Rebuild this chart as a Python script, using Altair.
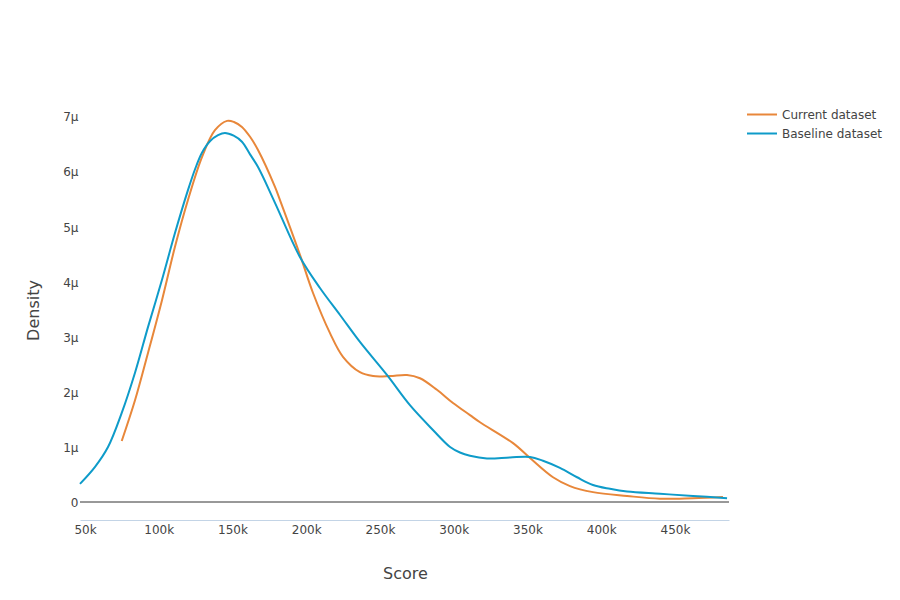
import altair as alt
import pandas as pd

# Baseline dataset density curve (score, density)
base_score = [46.6e3, 56.8e3, 65.6e3, 74.9e3, 83.9e3, 92.7e3, 102.2e3, 111.0e3, 119.8e3, 124.6e3,
              129.3e3, 134.7e3, 140.2e3, 144.9e3, 150.8e3, 156.4e3, 161.9e3, 167.3e3, 178.8e3,
              195.8e3, 209.3e3, 222.9e3, 236.4e3, 254.7e3, 270.3e3, 285.9e3, 297.5e3, 304.2e3,
              311.0e3, 322.5e3, 338.1e3, 351.7e3, 360.5e3, 372.0e3, 383.6e3, 394.4e3, 405.9e3,
              417.5e3, 439.8e3, 462.2e3, 485.3e3]
base_dens = [0.33, 0.64, 1.00, 1.62, 2.35, 3.18, 4.04, 4.89, 5.67, 6.05,
             6.35, 6.56, 6.67, 6.71, 6.66, 6.55, 6.32, 6.09, 5.44,
             4.45, 3.89, 3.40, 2.91, 2.31, 1.76, 1.31, 1.00, 0.90,
             0.84, 0.79, 0.81, 0.82, 0.75, 0.62, 0.45, 0.31, 0.24,
             0.19, 0.15, 0.11, 0.07]

# Current dataset density curve
cur_score = [74.9e3, 83.9e3, 92.7e3, 102.2e3, 111.0e3, 119.8e3, 129.3e3, 138.1e3, 146.3e3,
             151.0e3, 156.4e3, 161.9e3, 167.3e3, 178.8e3, 182.2e3, 195.8e3, 204.6e3, 216.1e3,
             224.9e3, 236.4e3, 245.3e3, 256.8e3, 268.3e3, 277.1e3, 288.6e3, 299.5e3, 311.0e3,
             317.8e3, 340.2e3, 351.7e3, 367.3e3, 378.8e3, 394.4e3, 417.5e3, 439.8e3, 462.2e3,
             482.5e3]
cur_dens = [1.11, 1.85, 2.71, 3.67, 4.64, 5.49, 6.27, 6.76, 6.93,
            6.91, 6.82, 6.64, 6.40, 5.73, 5.49, 4.49, 3.80, 3.07,
            2.64, 2.36, 2.29, 2.29, 2.31, 2.25, 2.04, 1.80, 1.58,
            1.45, 1.07, 0.80, 0.45, 0.29, 0.18, 0.11, 0.06, 0.07,
            0.09]

series_names = ["Current dataset", "Baseline dataset"]
series_colors = ["#E8873A", "#0E9BC9"]
x_ticks = [50e3, 100e3, 150e3, 200e3, 250e3, 300e3, 350e3, 400e3, 450e3]
y_ticks = [0, 1e-6, 2e-6, 3e-6, 4e-6, 5e-6, 6e-6, 7e-6]

rows = []
for s, d in zip(cur_score, cur_dens):
    rows.append({"Score": s, "Density": d * 1e-6, "Series": series_names[0], "order": 0})
for s, d in zip(base_score, base_dens):
    rows.append({"Score": s, "Density": d * 1e-6, "Series": series_names[1], "order": 1})
df = pd.DataFrame(rows)

xscale = alt.Scale(domain=[46610, 486610], nice=False, zero=False)
yscale = alt.Scale(domain=[-0.327e-6, 7.309e-6], nice=False, zero=False)

lines = alt.Chart(df).mark_line(strokeWidth=2, interpolate="catmull-rom").encode(
    x=alt.X("Score:Q", scale=xscale,
            axis=alt.Axis(values=x_ticks, format="~s", ticks=False, grid=False,
                          domainColor="#c3d4e6", domainWidth=1, labelPadding=4,
                          labelFontSize=12, labelColor="#444", labelFont="DejaVu Sans",
                          title="Score", titleFontSize=16, titleFont="DejaVu Sans",
                          titleFontWeight="normal", titleColor="#444",
                          titleX=325, titleY=58, titleBaseline="alphabetic", titleAlign="center")),
    y=alt.Y("Density:Q", scale=yscale,
            axis=alt.Axis(values=y_ticks, format="~s", ticks=False, grid=False, domain=False,
                          labelExpr="datum.value == 0 ? '0' : datum.label",
                          labelPadding=2, labelFontSize=12, labelColor="#444",
                          labelFont="DejaVu Sans",
                          title="Density", titleFontSize=16, titleFont="DejaVu Sans",
                          titleFontWeight="normal", titleColor="#444",
                          titleX=-42, titleY=210, titleAngle=-90,
                          titleBaseline="alphabetic", titleAlign="center")),
    color=alt.Color("Series:N",
                    scale=alt.Scale(domain=series_names, range=series_colors),
                    legend=alt.Legend(title=None, orient="none", legendX=666, legendY=7,
                                      symbolType="stroke", symbolSize=900, symbolStrokeWidth=2,
                                      clipHeight=15, rowPadding=4, labelFontSize=12,
                                      labelColor="#444", labelFont="DejaVu Sans",
                                      labelOffset=4)),
    detail="Series:N",
    order="order:Q",
)

zero = alt.Chart(pd.DataFrame({"y": [0]})).mark_rule(color="#333", strokeWidth=1).encode(
    y=alt.Y("y:Q", scale=yscale)
)

chart = alt.layer(zero, lines).properties(
    width=649, height=420,
    autosize=alt.AutoSizeParams(type="none"),
    padding={"left": 80, "top": 100, "right": 171, "bottom": 80},
    background="white",
).configure_view(stroke=None)

chart.save("out.html", embed_options={"renderer": "svg", "actions": False})
